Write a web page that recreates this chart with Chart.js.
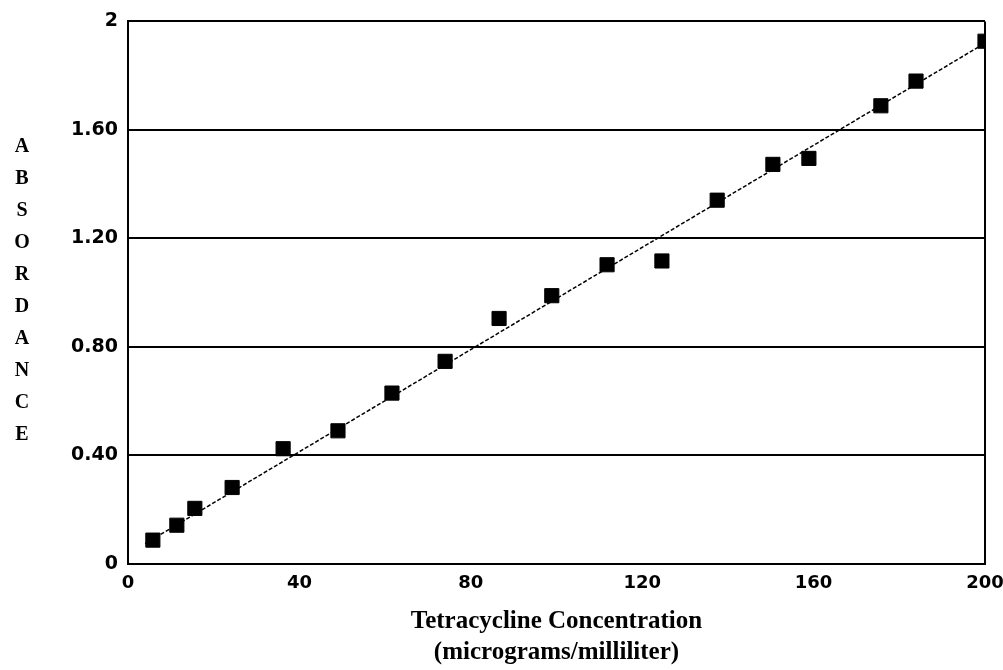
<!DOCTYPE html>
<html>
<head>
<meta charset="utf-8">
<script src="https://cdn.jsdelivr.net/npm/chart.js@4"></script>
<style>
  html, body { margin: 0; padding: 0; background: #fff; }
</style>
</head>
<body>
<canvas id="myChart" width="1003" height="670"></canvas>
<script>
// values
var concentration = [5.8, 11.4, 15.6, 24.3, 36.2, 49.0, 61.6, 74.0, 86.6, 98.9, 111.8, 124.6, 137.5, 150.5, 158.9, 175.7, 183.9, 200];
var absorbance = [0.088, 0.143, 0.205, 0.282, 0.425, 0.491, 0.630, 0.747, 0.905, 0.989, 1.103, 1.117, 1.341, 1.473, 1.495, 1.689, 1.780, 1.927];

// fitted line end points
var fitX = [4, 200];
var fitY = [0.075, 1.92];

var xTicks = [0, 40, 80, 120, 160, 200];
var xTickLabels = ['0', '40', '80', '120', '160', '200'];
var yTicks = [0, 0.4, 0.8, 1.2, 1.6, 2];
var yTickLabels = ['0', '0.40', '0.80', '1.20', '1.60', '2'];

var yTitle = 'ABSORDANCE';
var xTitle = ['Tetracycline Concentration', '(micrograms/milliliter)'];

function pairs(xs, ys) {
    return xs.map(function (x, i) { return { x: x, y: ys[i] }; });
}

// stacked vertical letters for the y title
var stackedTitle = {
    id: 'stackedTitle',
    afterDraw: function (chart) {
        var ctx = chart.ctx;
        ctx.save();
        ctx.font = 'bold 20px "Liberation Serif"';
        ctx.fillStyle = '#000';
        ctx.textAlign = 'center';
        ctx.textBaseline = 'middle';
        for (var i = 0; i < yTitle.length; i++) {
            ctx.fillText(yTitle[i], 22, 147 + i * 32);
        }
        ctx.restore();
    }
};

var ctx = document.getElementById('myChart');

new Chart(ctx, {
    type: 'scatter',
    data: {
        datasets: [{
            data: pairs(concentration, absorbance),
            pointStyle: 'rect',
            pointRadius: 10,
            pointHoverRadius: 10,
            backgroundColor: '#000',
            borderColor: '#000',
            borderWidth: 1,
            order: 1
        }, {
            type: 'line',
            data: pairs(fitX, fitY),
            borderColor: '#000',
            borderWidth: 1.5,
            borderDash: [4, 2],
            pointRadius: 0,
            fill: false,
            order: 2
        }]
    },
    plugins: [stackedTitle],
    options: {
        responsive: false,
        animation: false,
        events: [],
        layout: {
            padding: { left: 0, top: 18, right: 18, bottom: 0 }
        },
        plugins: {
            legend: { display: false },
            tooltip: { enabled: false }
        },
        scales: {
            x: {
                type: 'linear',
                min: 0,
                max: 200,
                afterBuildTicks: function (scale) {
                    scale.ticks = xTicks.map(function (v) { return { value: v }; });
                },
                afterFit: function (scale) {
                    scale.height = 106;
                    scale.paddingRight = 0;
                    scale.paddingLeft = 0;
                },
                ticks: {
                    autoSkip: false,
                    maxRotation: 0,
                    padding: 9,
                    color: '#000',
                    font: { family: '"DejaVu Sans"', size: 18, weight: 'bold' },
                    callback: function (v) { return xTickLabels[xTicks.indexOf(v)]; }
                },
                grid: {
                    drawTicks: false,
                    lineWidth: 2,
                    color: function (c) { return c.tick && c.tick.value === 200 ? '#000' : 'rgba(0,0,0,0)'; }
                },
                border: { display: true, color: '#000', width: 2 },
                title: {
                    display: true,
                    text: xTitle,
                    color: '#000',
                    padding: { top: 0, bottom: 2 },
                    font: { family: '"Liberation Serif"', size: 25, weight: 'bold', lineHeight: '31px' }
                }
            },
            y: {
                type: 'linear',
                min: 0,
                max: 2,
                afterBuildTicks: function (scale) {
                    scale.ticks = yTicks.map(function (v) { return { value: v }; });
                },
                afterFit: function (scale) { scale.width = 128; },
                ticks: {
                    autoSkip: false,
                    padding: 10,
                    color: '#000',
                    font: { family: '"DejaVu Sans"', size: 19, weight: 'bold' },
                    callback: function (v) { return yTickLabels[yTicks.indexOf(v)]; }
                },
                grid: {
                    drawTicks: false,
                    lineWidth: 2,
                    color: '#000'
                },
                border: { display: true, color: '#000', width: 2 }
            }
        }
    }
});
</script>
</body>
</html>
